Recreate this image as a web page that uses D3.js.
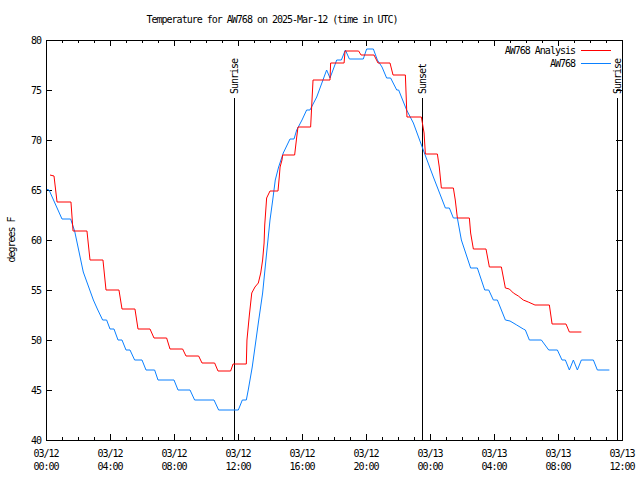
<!DOCTYPE html>
<html>
<head>
<meta charset="utf-8">
<script src="https://cdn.jsdelivr.net/npm/d3@7"></script>
<style>
  body { margin: 0; background: #fff; }
  text { font-family: "DejaVu Sans Mono", monospace; font-size: 10px; letter-spacing: -1px; fill: #000; }
</style>
</head>
<body>
<svg id="chart"></svg>
<script>
const WIDTH = 640;
const HEIGHT = 480;
const MARGIN = { top: 40, right: 18, bottom: 40, left: 46 };

const START = new Date(Date.UTC(2025, 2, 12, 0, 0));
const END = new Date(Date.UTC(2025, 2, 13, 12, 0));

// hours since 03/12 00:00 UTC, temps in F
const analysisHours = [0.25, 0.5, 0.69, 1.56, 1.69, 2.56, 2.75, 3.56, 3.75, 4.56, 4.75, 5.56, 5.75, 6.5, 6.75, 7.54, 7.75, 8.54, 8.75, 9.54, 9.75, 10.54, 10.75, 11.54, 11.69, 12.52, 12.56, 12.71, 12.86, 13.06, 13.27, 13.42, 13.54, 13.63, 13.67, 13.75, 13.79, 14.0, 14.5, 14.58, 14.63, 14.75, 14.79, 15.54, 15.67, 15.75, 16.54, 16.69, 17.75, 17.79, 18.63, 18.69, 19.54, 19.69, 20.5, 20.75, 21.5, 21.69, 22.46, 22.56, 23.46, 23.63, 23.71, 24.46, 24.58, 24.71, 25.46, 25.58, 25.71, 26.46, 26.54, 26.71, 27.5, 27.71, 28.46, 28.71, 28.96, 29.21, 29.52, 29.83, 30.14, 30.56, 31.46, 31.63, 32.5, 32.71, 33.46];
const analysisTemps = [66.5, 66.4, 63.8, 63.8, 60.9, 60.9, 58.0, 58.0, 55.0, 55.0, 53.1, 53.1, 51.1, 51.1, 50.2, 50.2, 49.1, 49.1, 48.4, 48.4, 47.7, 47.7, 46.9, 46.9, 47.6, 47.6, 50.0, 52.5, 54.7, 55.3, 55.7, 56.7, 58.0, 59.7, 61.5, 63.3, 64.2, 64.9, 64.9, 66.3, 67.3, 68.0, 68.5, 68.5, 70.3, 71.3, 71.3, 76.0, 76.0, 77.7, 77.7, 78.9, 78.9, 78.5, 78.5, 77.7, 77.7, 76.5, 76.5, 72.3, 72.3, 70.7, 68.6, 68.6, 67.3, 65.2, 65.2, 64.0, 62.2, 62.2, 60.7, 59.1, 59.1, 57.3, 57.3, 55.2, 55.1, 54.7, 54.4, 54.0, 53.8, 53.5, 53.5, 51.6, 51.6, 50.8, 50.8];

const obsHours = [0, 0.19, 1.0, 1.54, 1.79, 2.33, 2.96, 3.21, 3.54, 3.79, 4.0, 4.25, 4.5, 4.75, 5.0, 5.25, 5.54, 6.0, 6.25, 6.79, 7.0, 8.0, 8.25, 9.0, 9.29, 10.5, 10.79, 12.02, 12.27, 12.52, 12.64, 12.89, 13.27, 13.54, 13.79, 14.0, 14.17, 14.33, 14.54, 14.83, 15.25, 15.5, 15.67, 16.0, 16.29, 16.5, 16.92, 17.54, 17.75, 18.17, 18.46, 18.71, 18.96, 19.83, 20.04, 20.46, 20.71, 21.0, 21.29, 21.54, 21.92, 22.04, 22.54, 22.96, 23.58, 24.21, 24.96, 25.21, 25.46, 25.71, 25.96, 26.54, 26.96, 27.42, 27.67, 27.96, 28.21, 28.71, 29.0, 29.42, 29.83, 29.96, 30.21, 30.96, 31.42, 31.96, 32.25, 32.46, 32.71, 32.96, 33.21, 33.46, 34.21, 34.46, 35.21];
const obsTemps = [65.1, 65.0, 62.1, 62.1, 60.9, 56.8, 54.0, 53.1, 52.0, 52.0, 51.1, 51.1, 50.0, 50.0, 49.0, 49.0, 48.0, 48.0, 47.0, 47.0, 46.0, 46.0, 45.0, 45.0, 44.0, 44.0, 43.0, 43.0, 44.0, 44.0, 45.0, 47.3, 51.7, 54.7, 58.7, 62.0, 64.0, 66.0, 67.3, 68.7, 70.1, 70.1, 71.0, 72.0, 73.0, 73.0, 74.3, 77.0, 76.2, 78.0, 78.0, 79.0, 78.1, 78.1, 79.1, 79.1, 78.0, 77.3, 76.2, 76.2, 75.0, 75.0, 73.0, 71.7, 69.0, 66.3, 63.2, 63.2, 62.2, 62.2, 60.0, 57.2, 57.2, 55.0, 55.0, 54.0, 54.0, 52.0, 51.9, 51.5, 51.1, 51.0, 50.0, 50.0, 49.0, 49.0, 48.0, 48.0, 47.0, 48.0, 47.0, 48.0, 48.0, 47.0, 47.0];

const sunEvents = ["Sunrise", "Sunset", "Sunrise"];
const sunHours = [11.72, 23.5, 35.69];

const yTicks = [40, 45, 50, 55, 60, 65, 70, 75, 80];

const hoursToDate = h => new Date(START.getTime() + h * 3600 * 1000);

const $svg = d3.select("#chart").attr("width", WIDTH).attr("height", HEIGHT);

const x = d3.scaleUtc().domain([START, END]).range([MARGIN.left, WIDTH - MARGIN.right]);
const y = d3.scaleLinear().domain([40, 80]).range([HEIGHT - MARGIN.bottom, MARGIN.top]);

const plotLeft = MARGIN.left, plotRight = WIDTH - MARGIN.right;
const plotTop = MARGIN.top, plotBottom = HEIGHT - MARGIN.bottom;

// title
$svg.append("text")
  .attr("x", 272).attr("y", 23)
  .attr("text-anchor", "middle")
  .text("Temperature for AW768 on 2025-Mar-12 (time in UTC)");

// y label
$svg.append("text")
  .attr("transform", "translate(15,240) rotate(-90)")
  .attr("text-anchor", "middle")
  .text("degrees F");

// ticks
const majorX = d3.utcHour.every(4).range(START, hoursToDate(36.01));
const minorX = d3.utcHour.every(1).range(START, hoursToDate(36.01));
const tickG = $svg.append("g").attr("stroke", "#000").attr("stroke-width", 1);

minorX.forEach(d => {
  const xx = Math.round(x(d)) + 0.5;
  tickG.append("line").attr("x1", xx).attr("x2", xx).attr("y1", plotBottom).attr("y2", plotBottom - 3);
  tickG.append("line").attr("x1", xx).attr("x2", xx).attr("y1", plotTop).attr("y2", plotTop + 3);
});
majorX.forEach(d => {
  const xx = Math.round(x(d)) + 0.5;
  tickG.append("line").attr("x1", xx).attr("x2", xx).attr("y1", plotBottom).attr("y2", plotBottom - 6);
  tickG.append("line").attr("x1", xx).attr("x2", xx).attr("y1", plotTop).attr("y2", plotTop + 6);
});
yTicks.forEach(t => {
  const yy = Math.round(y(t)) + 0.5;
  tickG.append("line").attr("x1", plotLeft).attr("x2", plotLeft + 6).attr("y1", yy).attr("y2", yy);
  tickG.append("line").attr("x1", plotRight).attr("x2", plotRight - 6).attr("y1", yy).attr("y2", yy);
});

// tick labels
const fmtDate = d3.utcFormat("%m/%d");
const fmtTime = d3.utcFormat("%H:%M");
majorX.forEach(d => {
  $svg.append("text").attr("x", x(d)).attr("y", 457).attr("text-anchor", "middle").text(fmtDate(d));
  $svg.append("text").attr("x", x(d)).attr("y", 470).attr("text-anchor", "middle").text(fmtTime(d));
});
yTicks.forEach(t => {
  $svg.append("text").attr("x", plotLeft - 5).attr("y", y(t) + 4).attr("text-anchor", "end").text(t);
});

// sunrise / sunset markers
sunEvents.forEach((name, i) => {
  const xx = Math.round(x(hoursToDate(sunHours[i]))) + 0.5;
  $svg.append("line")
    .attr("x1", xx).attr("x2", xx).attr("y1", 98).attr("y2", plotBottom)
    .attr("stroke", "#000");
  $svg.append("text")
    .attr("transform", `translate(${xx + 3.5},94) rotate(-90)`)
    .text(name);
});

// series
const line = d3.line().x(d => x(hoursToDate(d[0]))).y(d => y(d[1]));
const analysisData = d3.zip(analysisHours, analysisTemps);
const obsData = d3.zip(obsHours, obsTemps);

$svg.append("path").datum(obsData)
  .attr("fill", "none").attr("stroke", "#0a80ff").attr("stroke-width", 1)
  .attr("d", line);
$svg.append("path").datum(analysisData)
  .attr("fill", "none").attr("stroke", "#ff0000").attr("stroke-width", 1)
  .attr("d", line);

// legend
const legend = [["AW768 Analysis", "#ff0000"], ["AW768", "#0a80ff"]];
legend.forEach((l, i) => {
  const ly = 50 + i * 13;
  $svg.append("text").attr("x", 575).attr("y", ly + 4).attr("text-anchor", "end").text(l[0]);
  $svg.append("line").attr("x1", 581).attr("x2", 611).attr("y1", ly + 0.5).attr("y2", ly + 0.5)
    .attr("stroke", l[1]).attr("stroke-width", 1);
});

// frame
$svg.append("rect")
  .attr("x", plotLeft + 0.5).attr("y", plotTop + 0.5)
  .attr("width", plotRight - plotLeft).attr("height", plotBottom - plotTop)
  .attr("fill", "none").attr("stroke", "#000");
</script>
</body>
</html>
